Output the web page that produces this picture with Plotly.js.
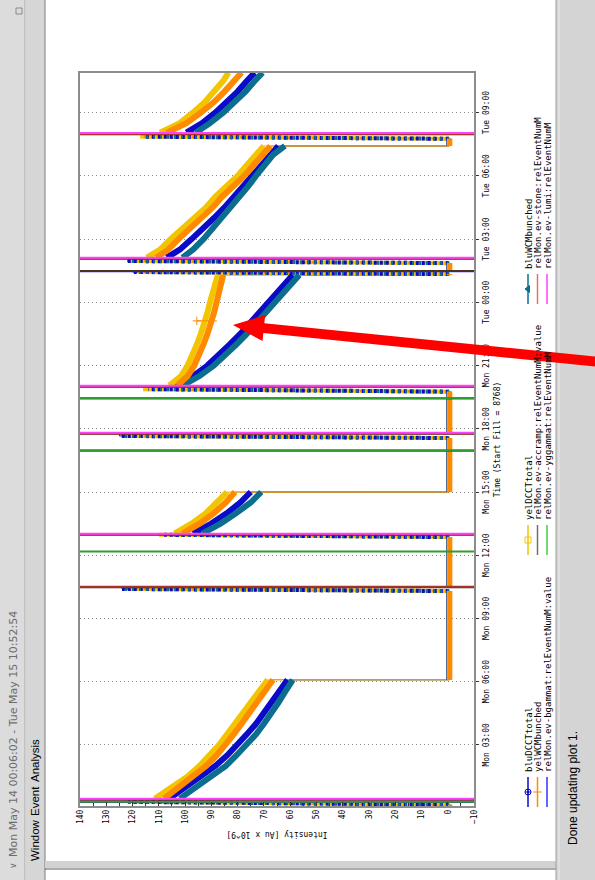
<!DOCTYPE html>
<html>
<head>
<meta charset="utf-8">
<script src="https://cdn.plot.ly/plotly-3.0.1.min.js"></script>
<style>
  html, body { margin: 0; padding: 0; background: #ffffff; width: 595px; height: 880px; overflow: hidden; }
  /* the monitor window is laid out landscape and turned a quarter turn */
  #win { position: absolute; left: 0; top: 0; width: 880px; height: 595px;
         transform-origin: 0 0; transform: translate(0px, 880px) rotate(-90deg); }
</style>
</head>
<body>
<div id="win"></div>
<script>
// ---------------- time window (hours counted from Mon May 14 2012 00:00) ----------------
const windowStart = '2012-05-14 00:06:02';
const windowEnd   = '2012-05-15 10:52:54';
const firstReadingHour = 0.10;
const intensityRange = [-10, 140];

// sample times along each store, hours
const storeHours = [
  [0.45, 1, 1.5, 2, 2.5, 3, 3.5, 4, 4.5, 5, 5.5, 6.09],
  [13.03, 13.5, 14, 14.5, 15.0],
  [20.05, 20.5, 21, 21.5, 22, 22.5, 23, 23.5, 24, 24.5, 25, 25.3],
  [26.12, 26.5, 27, 27.5, 28, 28.5, 29, 29.5, 30, 30.5, 31, 31.42],
  [32.05, 32.5, 33, 33.5, 34, 34.5, 34.9]
];

// beam intensity during the stores [Au x 10^9]
const bluDCCTtotal = [
  [106, 99.5, 93.5, 88.5, 84, 80, 76.5, 73, 70, 67, 64, 61],
  [97, 90, 84, 79, 75],
  [104, 97, 91.5, 87, 83, 79, 75.5, 72, 68, 64.5, 61, 59],
  [107, 102, 97.5, 93, 89, 85, 81.5, 78, 74.5, 71.5, 68, 64.5],
  [99.5, 93.5, 88.5, 84, 80, 76.5, 73.5]
];
const yelDCCTtotal = [
  [111.5, 105, 99, 94.5, 90.5, 87, 84, 81, 78, 75.5, 72.5, 68.5],
  [104, 97.5, 92, 88, 84],
  [106, 101.5, 99, 97, 95.5, 94, 92.5, 91.5, 90.5, 89.5, 88.5, 87.5],
  [114.5, 109.5, 105.5, 101, 96, 92, 88.5, 84, 80, 76.5, 73, 70],
  [109.5, 102, 97, 92.5, 89, 85.5, 83.5]
];
const bluWCMbunched = [
  [102, 95.5, 89.5, 84.5, 80.5, 76.5, 73, 70, 67, 64.5, 62, 59],
  [93.5, 86.5, 80.5, 75, 71],
  [101, 94.5, 89, 84.5, 80.5, 76.5, 73, 69.5, 65.5, 62, 58.5, 56.5],
  [101, 97, 93, 89.5, 86, 82.5, 79, 76, 73, 70, 66.5, 62],
  [96, 90.5, 85.5, 81, 77, 73.5, 70.5]
];
const yelWCMbunched = [
  [108, 102, 96.5, 92, 88, 84.5, 81.5, 78.5, 75.5, 73, 70, 66.5],
  [101, 94.5, 89, 84.5, 81],
  [103, 99, 96.5, 94.5, 93, 91.5, 90, 89, 88, 87, 86, 85.5],
  [111, 106.5, 102.5, 98, 93.5, 89.5, 86, 81.5, 77.5, 74, 70.5, 67.5],
  [107, 99.5, 94, 89, 85, 81.5, 78.5]
];
// a single spurious yelWCMbunched reading during the third store
const yelWCMspikeHours  = [23.12, 23.12];
const yelWCMspikeValues = [89.5, 95.5];

// injections: ramp-up start/end (hours), the store that followed (-1 = beam lost), loss time
const injectStartHours = [0.16, 10.30, 12.86, 17.56, 19.76, 25.34, 25.86, 31.76];
const injectEndHours   = [0.30, 10.40, 12.97, 17.66, 19.88, 25.44, 25.96, 31.86];
const injectStore      = [0, -1, 1, -1, 2, -1, 3, 4];
const beamLostHours    = [null, 10.50, null, 17.80, null, 25.50, null, null];
const injectPeakBluDCCT = [122, 124, 108, 125, 114, 120, 122, 116];
const injectPeakYelDCCT = [120, 121, 110, 122, 116, 118, 121, 117];
const injectPeakBluWCM  = [121, 123, 106, 124, 112, 119, 121, 115];
const injectPeakYelWCM  = [119, 120, 108, 121, 115, 117, 120, 116];
// reading between fills
const residualBluDCCT = -0.4, residualYelDCCT = -0.6, residualBluWCM = -0.5, residualYelWCM = -0.8;

// relMon event times, hours
const accrampHours  = [0.40, 10.48, 12.97, 17.76, 19.99, 25.49, 26.07, 31.97];
const stoneHours    = [0.42, 10.50, 12.99, 17.78, 20.01, 26.09, 31.99];
const lumiHours     = [0.45, 13.02, 17.81, 20.04, 26.12, 32.03];
const bgammatHours  = [0.29, 16.96, 19.44, 25.47];
const yggammatHours = [0.30, 12.18, 16.98, 19.46, 25.49];

// ---------------- window geometry (px, landscape frame) ----------------
const W = 880, H = 595, L = 74, R = 73, T = 80, B = 121;
const pw = W - L - R, ph = H - T - B;
const PX = x => (x - L) / pw;
const PY = y => (H - B - y) / ph;

function hourToDate(h) {
  const d = new Date(Date.UTC(2012, 4, 14) + Math.round(h * 3600000));
  return d.toISOString().slice(0, 23).replace('T', ' ');
}

const mono = 'DejaVu Sans Mono, Liberation Mono, monospace';

function lineTrace(x, y, line) {
  return { x: x, y: y, type: 'scatter', mode: 'lines', showlegend: false, hoverinfo: 'skip', line: line };
}

// one beam signal split into its pieces: thin chronological path, residual between fills,
// injection ramps and the stores themselves
function beamPieces(values, peaks, residual, color, injectLine) {
  const px = [hourToDate(firstReadingHour)], py = [residual];
  const bx = [hourToDate(firstReadingHour)], by = [residual];
  const ix = [], iy = [];
  injectStartHours.forEach((h0, i) => {
    px.push(hourToDate(h0)); py.push(residual);
    bx.push(hourToDate(h0)); by.push(residual); bx.push(null); by.push(null);
    px.push(hourToDate(injectEndHours[i])); py.push(peaks[i]);
    ix.push(hourToDate(h0), hourToDate(injectEndHours[i]), null);
    iy.push(residual, peaks[i], null);
    const k = injectStore[i];
    let endH = null;
    if (k >= 0) {
      storeHours[k].forEach((h, j) => { px.push(hourToDate(h)); py.push(values[k][j]); });
      if (k < storeHours.length - 1) endH = storeHours[k][storeHours[k].length - 1] + 0.004;
    } else {
      px.push(hourToDate(beamLostHours[i])); py.push(peaks[i]);
      endH = beamLostHours[i] + 0.004;
    }
    if (endH !== null) {
      px.push(hourToDate(endH)); py.push(residual);
      bx.push(hourToDate(endH)); by.push(residual);
    }
  });
  const sx = [], sy = [];
  storeHours.forEach((hrs, k) => {
    hrs.forEach((h, j) => { sx.push(hourToDate(h)); sy.push(values[k][j]); });
    sx.push(null); sy.push(null);
  });
  return {
    path: lineTrace(px, py, { color: color, width: 1 }),
    residual: lineTrace(bx, by, { color: color, width: 5 }),
    inject: lineTrace(ix, iy, Object.assign({ color: color }, injectLine)),
    store: lineTrace(sx, sy, { color: color, width: 6 })
  };
}

function eventTrace(hours, color, width) {
  const x = [], y = [];
  hours.forEach(h => { x.push(hourToDate(h), hourToDate(h), null); y.push(intensityRange[0], intensityRange[1], null); });
  return lineTrace(x, y, { color: color, width: width });
}

const colors = {
  bluDCCT: '#0a0ac8', yelDCCT: '#f2c500', bluWCM: '#0b6e8e', yelWCM: '#ff8a00',
  bgammat: '#3030ff', accramp: '#4a3020', yggammat: '#2e9e2e', stone: '#a8342a', lumi: '#ff40ff'
};

const bD = beamPieces(bluDCCTtotal, injectPeakBluDCCT, residualBluDCCT, colors.bluDCCT, { width: 4, dash: '3px,3px' });
const bW = beamPieces(bluWCMbunched, injectPeakBluWCM, residualBluWCM, colors.bluWCM, { width: 4, dash: '2px,5px' });
const yD = beamPieces(yelDCCTtotal, injectPeakYelDCCT, residualYelDCCT, colors.yelDCCT, { width: 4 });
const yW = beamPieces(yelWCMbunched, injectPeakYelWCM, residualYelWCM, colors.yelWCM, { width: 2, dash: '2px,6px' });

const spike = {
  x: yelWCMspikeHours.map(hourToDate), y: yelWCMspikeValues, type: 'scatter', mode: 'lines+markers',
  showlegend: false, hoverinfo: 'skip', line: { color: colors.yelWCM, width: 1 },
  marker: { symbol: 'cross-thin-open', size: 6, line: { color: colors.yelWCM, width: 1 } }
};

const traces = [
  bD.path, bW.path, yD.path, yW.path,
  yD.inject, yW.inject, bD.inject, bW.inject,
  bD.store, bW.store, yD.store, yW.store, spike,
  bD.residual, bW.residual, yD.residual, yW.residual,
  eventTrace(bgammatHours, colors.bgammat, 2),
  eventTrace(yggammatHours, colors.yggammat, 2),
  eventTrace(accrampHours, colors.accramp, 2),
  eventTrace(stoneHours, colors.stone, 2),
  eventTrace(lumiHours, colors.lumi, 2)
];

// legend entries, three columns by three rows, each in its own legend box
const legendNames = [
  'bluDCCTtotal', 'yelDCCTtotal', 'bluWCMbunched',
  'yelWCMbunched', 'relMon.ev-accramp:relEventNumM:value', 'relMon.ev-stone:relEventNumM',
  'relMon.ev-bgammat:relEventNumM:value', 'relMon.ev-yggammat:relEventNumM', 'relMon.ev-lumi:relEventNumM'
];
const legendColors = [colors.bluDCCT, colors.yelDCCT, colors.bluWCM, colors.yelWCM, '#707070',
                      '#e07070', colors.bgammat, '#44cc44', colors.lumi];
const legendSymbols = ['circle-cross-open', 'square-open', 'triangle-up', 'cross-thin-open', null, null, null, null, null];
const legendCols = [68, 320, 571];
const legendRows = [528, 537.5, 547];

const layout = {
  width: W, height: H,
  margin: { l: L, r: R, t: T, b: B, pad: 0 },
  paper_bgcolor: '#ffffff', plot_bgcolor: '#ffffff',
  showlegend: true,
  xaxis: {
    type: 'date', range: [windowStart, windowEnd],
    tick0: '2012-05-14 00:00', dtick: 3 * 3600000, tickformat: '%a %H:%M',
    showgrid: true, gridcolor: '#8a8a8a', griddash: '1px,3px', gridwidth: 1,
    ticks: 'outside', ticklen: 3, tickcolor: '#333333',
    showline: true, linecolor: '#8c8c8c', linewidth: 2, mirror: true, zeroline: false,
    tickfont: { family: mono, size: 8, color: '#000000' },
    title: { text: 'Time (Start Fill = 8768)', font: { family: mono, size: 8, color: '#000000' }, standoff: 5 }
  },
  yaxis: {
    range: intensityRange, dtick: 10, tick0: 0,
    showgrid: false, zeroline: false,
    ticks: 'inside', ticklen: 4, tickcolor: '#333333',
    minor: { dtick: 5, ticks: 'inside', ticklen: 3, tickcolor: '#333333', showgrid: false },
    showline: true, linecolor: '#8c8c8c', linewidth: 2, mirror: true,
    tickfont: { family: mono, size: 8, color: '#000000' },
    title: { text: 'Intensity [Au x 10^9]', font: { family: mono, size: 8, color: '#000000' }, standoff: 6 }
  },
  shapes: [], annotations: []
};

legendNames.forEach((name, i) => {
  const key = i === 0 ? 'legend' : 'legend' + (i + 1);
  const sym = legendSymbols[i];
  const entry = {
    x: [null], y: [null], type: 'scatter', name: name, legend: key,
    mode: sym ? 'lines+markers' : 'lines',
    line: { color: legendColors[i], width: 1.5 }
  };
  if (sym) entry.marker = { symbol: sym, size: 6, color: legendColors[i], line: { color: legendColors[i], width: 1 } };
  traces.push(entry);
  layout[key] = {
    x: PX(legendCols[i % 3]), xanchor: 'left', y: PY(legendRows[Math.floor(i / 3)]), yanchor: 'middle',
    orientation: 'h', bgcolor: 'rgba(0,0,0,0)', borderwidth: 0, itemwidth: 30,
    font: { family: mono, size: 9, color: '#000000' }
  };
});

// window frame: title bar, menu bar, status bar, left edge
function rect(x0, y0, x1, y1, fill, lineColor) {
  return { type: 'rect', xref: 'paper', yref: 'paper', x0: PX(x0), x1: PX(x1), y0: PY(y1), y1: PY(y0),
           fillcolor: fill, line: { width: lineColor ? 1 : 0, color: lineColor || fill }, layer: 'below' };
}
function hline(x0, x1, y, color) {
  return { type: 'line', xref: 'paper', yref: 'paper', x0: PX(x0), x1: PX(x1), y0: PY(y), y1: PY(y),
           line: { color: color, width: 1 }, layer: 'below' };
}
function vline(x, y0, y1, color, width) {
  return { type: 'line', xref: 'paper', yref: 'paper', x0: PX(x), x1: PX(x), y0: PY(y0), y1: PY(y1),
           line: { color: color, width: width || 1 }, layer: 'below' };
}
layout.shapes.push(rect(0, 0, W, 25, '#dcdcdc'));
layout.shapes.push(hline(0, W, 25, '#a6a6a6'));
layout.shapes.push(rect(0, 26, W, 45, '#d6d6d6'));
layout.shapes.push(hline(0, W, 45, '#7c7c7c'));
layout.shapes.push(rect(12, 45, 19, 556, '#d2d2d2'));
layout.shapes.push(vline(11, 45, 556, '#5a5a5a', 1));
layout.shapes.push(rect(0, 556, W, H, '#d4d4d4'));
layout.shapes.push(hline(0, W, 556, '#a0a0a0'));
layout.shapes.push(hline(0, W, 559, '#ececec'));
layout.shapes.push(rect(866, 16, 872, 22, 'rgba(0,0,0,0)', '#8a8a8a'));

function label(text, x, y, size, color, family, anchor) {
  return { text: text, xref: 'paper', yref: 'paper', x: PX(x), y: PY(y), xanchor: anchor || 'left', yanchor: 'middle',
           showarrow: false, font: { size: size, color: color, family: family } };
}
const sans = 'DejaVu Sans, Liberation Sans, sans-serif';
const ui = 'Liberation Sans, Arial, sans-serif';
layout.annotations.push(label('\u2228', 9, 13, 9, '#6c6c6c', sans));
layout.annotations.push(label('Mon May 14 00:06:02 - Tue May 15 10:52:54', 21, 13, 11, '#6c6c6c', sans));
layout.annotations.push(label('Window', 17, 35, 11.5, '#000000', ui));
layout.annotations.push(label('Event', 62, 35, 11.5, '#000000', ui));
layout.annotations.push(label('Analysis', 96, 35, 11.5, '#000000', ui));
layout.annotations.push(label('Done updating plot 1.', 33, 573, 12, '#000000', ui));

// red pointer arrow drawn over the window
const tip = [555, 233], tail = [516, 620];
const headLen = 31, headHalf = 13, shaftHalf = 5;
(function () {
  const dx = tip[0] - tail[0], dy = tip[1] - tail[1];
  const len = Math.hypot(dx, dy), ux = dx / len, uy = dy / len, nx = -uy, ny = ux;
  const neck = [tip[0] - ux * headLen, tip[1] - uy * headLen];
  const pts = [
    [tail[0] + nx * shaftHalf, tail[1] + ny * shaftHalf],
    [neck[0] + nx * shaftHalf, neck[1] + ny * shaftHalf],
    [neck[0] + nx * headHalf, neck[1] + ny * headHalf],
    tip,
    [neck[0] - nx * headHalf, neck[1] - ny * headHalf],
    [neck[0] - nx * shaftHalf, neck[1] - ny * shaftHalf],
    [tail[0] - nx * shaftHalf, tail[1] - ny * shaftHalf]
  ];
  const path = pts.map((p, i) => (i ? 'L' : 'M') + PX(p[0]).toFixed(5) + ',' + PY(p[1]).toFixed(5)).join(' ') + ' Z';
  layout.shapes.push({ type: 'path', xref: 'paper', yref: 'paper', path: path,
                       fillcolor: '#ff0000', line: { width: 0 }, layer: 'above' });
})();

Plotly.newPlot('win', traces, layout, { staticPlot: true, displayModeBar: false });
</script>
</body>
</html>
